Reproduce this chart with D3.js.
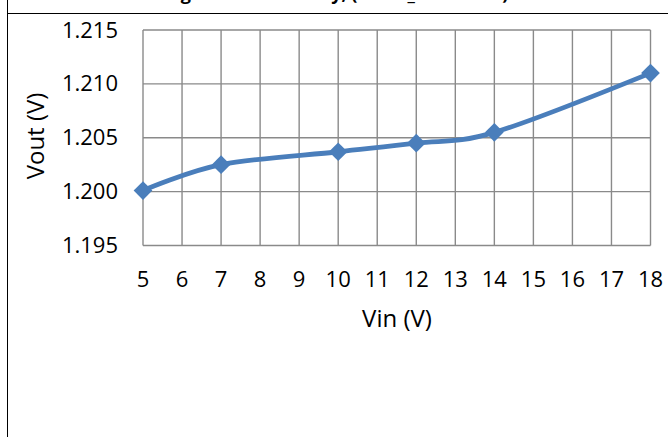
<!DOCTYPE html>
<html>
<head>
<meta charset="utf-8">
<script src="https://cdn.jsdelivr.net/npm/d3@7"></script>
<style>
  html, body { margin: 0; padding: 0; background: #fff; }
  svg { display: block; }
  text { font-family: "Open Sans", "Liberation Sans", sans-serif; fill: #000; }
</style>
</head>
<body>
<svg id="chart" width="668" height="437"></svg>
<script>
const vin = [5, 7, 10, 12, 14, 18];
const vout = [1.2001, 1.2025, 1.2037, 1.2045, 1.2055, 1.2110];
const xTicks = [5, 6, 7, 8, 9, 10, 11, 12, 13, 14, 15, 16, 17, 18];
const yTicks = [1.195, 1.200, 1.205, 1.210, 1.215];
const titleText = "Line Regulation Accuracy, (VOUT_SET = 1.2V)";
const xTitle = "Vin (V)";
const yTitle = "Vout (V)";

const svg = d3.select("#chart");
const x = d3.scaleLinear().domain([5, 18]).range([143, 650.5]);
const y = d3.scaleLinear().domain([1.195, 1.215]).range([245.5, 30]);

// frame
svg.append("line").attr("x1", 7.5).attr("x2", 7.5).attr("y1", 0).attr("y2", 437)
  .attr("stroke", "#000").attr("stroke-width", 1);
svg.append("line").attr("x1", 7).attr("x2", 668).attr("y1", 13.5).attr("y2", 13.5)
  .attr("stroke", "#000").attr("stroke-width", 1);

// title, cut off at the top edge as in the reference (only descenders visible)
svg.append("text").attr("x", 312).attr("y", -0.5).attr("text-anchor", "middle")
  .style("font-weight", "bold").style("font-size", "18px").text(titleText);

// grid
const g = svg.append("g");
g.selectAll("line.v").data(xTicks).join("line").attr("class", "v")
  .attr("x1", d => x(d)).attr("x2", d => x(d))
  .attr("y1", y(1.215)).attr("y2", y(1.195))
  .attr("stroke", "#8a8a8a").attr("stroke-width", 1.4);
g.selectAll("line.h").data(yTicks).join("line").attr("class", "h")
  .attr("x1", x(5)).attr("x2", x(18))
  .attr("y1", d => y(d)).attr("y2", d => y(d))
  .attr("stroke", "#8a8a8a").attr("stroke-width", 1.4);

// tick labels
svg.selectAll("text.yt").data(yTicks).join("text").attr("class", "yt")
  .attr("x", 118).attr("y", d => y(d) + 7.5).attr("text-anchor", "end")
  .style("font-size", "22px").text(d => d3.format(".3f")(d));
svg.selectAll("text.xt").data(xTicks).join("text").attr("class", "xt")
  .attr("x", d => x(d)).attr("y", 286.5).attr("text-anchor", "middle")
  .style("font-size", "22px").text(d => d);

// axis titles
svg.append("text").attr("x", 397).attr("y", 327).attr("text-anchor", "middle")
  .style("font-size", "24px").text(xTitle);
svg.append("text").attr("transform", "translate(44,136) rotate(-90)")
  .attr("text-anchor", "middle").style("font-size", "24px").text(yTitle);

// line
const pts = vin.map((v, i) => [v, vout[i]]);
const lineGen = d3.line().x(d => x(d[0])).y(d => y(d[1])).curve(d3.curveCardinal.tension(0));
svg.append("path").datum(pts).attr("d", lineGen)
  .attr("fill", "none").attr("stroke", "#4a7ebb").attr("stroke-width", 4.8)
  .attr("stroke-linejoin", "round");

// markers
const sym = d3.symbol().type(d3.symbolSquare).size(175);
svg.selectAll("path.m").data(pts).join("path").attr("class", "m")
  .attr("d", sym)
  .attr("transform", d => `translate(${x(d[0])},${y(d[1])}) rotate(45)`)
  .attr("fill", "#4a7ebb");
</script>
</body>
</html>
